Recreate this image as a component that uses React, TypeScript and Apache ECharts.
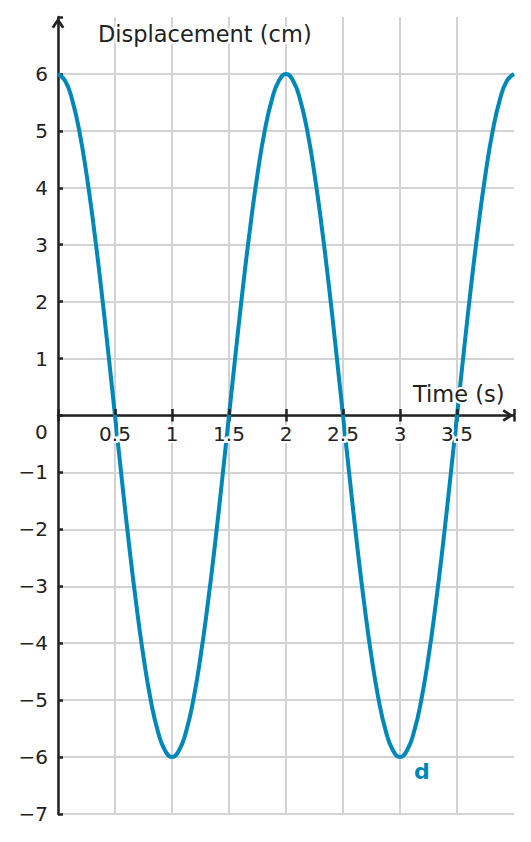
import React, { useEffect, useRef } from "react";
import * as echarts from "echarts";

// time samples (s) and displacement (cm)
const times = [
  0, 0.0625, 0.125, 0.1875, 0.25, 0.3125, 0.375, 0.4375,
  0.5, 0.5625, 0.625, 0.6875, 0.75, 0.8125, 0.875, 0.9375,
  1, 1.0625, 1.125, 1.1875, 1.25, 1.3125, 1.375, 1.4375,
  1.5, 1.5625, 1.625, 1.6875, 1.75, 1.8125, 1.875, 1.9375,
  2, 2.0625, 2.125, 2.1875, 2.25, 2.3125, 2.375, 2.4375,
  2.5, 2.5625, 2.625, 2.6875, 2.75, 2.8125, 2.875, 2.9375,
  3, 3.0625, 3.125, 3.1875, 3.25, 3.3125, 3.375, 3.4375,
  3.5, 3.5625, 3.625, 3.6875, 3.75, 3.8125, 3.875, 3.9375, 4,
];
const displacement = [
  6, 5.88, 5.54, 4.99, 4.24, 3.33, 2.3, 1.17,
  0, -1.17, -2.3, -3.33, -4.24, -4.99, -5.54, -5.88,
  -6, -5.88, -5.54, -4.99, -4.24, -3.33, -2.3, -1.17,
  0, 1.17, 2.3, 3.33, 4.24, 4.99, 5.54, 5.88,
  6, 5.88, 5.54, 4.99, 4.24, 3.33, 2.3, 1.17,
  0, -1.17, -2.3, -3.33, -4.24, -4.99, -5.54, -5.88,
  -6, -5.88, -5.54, -4.99, -4.24, -3.33, -2.3, -1.17,
  0, 1.17, 2.3, 3.33, 4.24, 4.99, 5.54, 5.88, 6,
];

const seriesName = "d";
const xTitle = "Time (s)";
const yTitle = "Displacement (cm)";

const FONT = "'DejaVu Sans', sans-serif";
const INK = "#222222";
const BLUE = "#0088bb";
const GRID = "#d3d3d3";
const ARROW = "path://M0,9 L6,0 L12,9 L9.8,10.4 L6,4.6 L2.2,10.4 Z";

const minus = (v: number) => (v < 0 ? "\u2212" + Math.abs(v) : String(v));

const App: React.FC = () => {
  const chartRef = useRef<HTMLDivElement>(null);

  useEffect(() => {
    document.body.style.margin = "0";
    if (!chartRef.current) return;
    const chart = echarts.init(chartRef.current, undefined, { renderer: "svg" });

    const tickStyle = { color: INK, width: 2.5 };
    const halo = { textBorderColor: "#ffffff", textBorderWidth: 4 };

    const option = {
      animation: false,
      grid: { left: 58, right: 17, top: 17, bottom: 28 },
      xAxis: [
        {
          type: "value",
          min: 0,
          max: 4,
          interval: 0.5,
          axisLine: {
            onZero: true,
            lineStyle: { color: INK, width: 2.5 },
            symbol: ["none", ARROW],
            symbolSize: [13, 11],
            symbolOffset: [0, -6],
          },
          axisTick: { show: true, inside: false, length: 6, lineStyle: tickStyle },
          axisLabel: { show: false },
          splitLine: { show: true, showMaxLine: false, lineStyle: { color: GRID, width: 2 } },
        },
        {
          // copy lifted onto y = 0: upward tick halves and the tick labels, drawn above the curve
          type: "value",
          min: 0,
          max: 4,
          interval: 0.5,
          position: "bottom",
          offset: -399,
          z: 4,
          axisLine: { show: false, onZero: false },
          axisTick: { show: true, inside: true, length: 6, lineStyle: tickStyle },
          axisLabel: {
            margin: 9,
            fontSize: 20,
            fontFamily: FONT,
            color: INK,
            ...halo,
            formatter: (v: number) => (v === 0 || v === 4 ? "" : String(v)),
          },
          splitLine: { show: false },
        },
      ],
      yAxis: {
        type: "value",
        min: -7,
        max: 7,
        interval: 1,
        axisLine: {
          onZero: true,
          lineStyle: { color: INK, width: 2.5 },
          symbol: ["none", ARROW],
          symbolSize: [13, 11],
          symbolOffset: [0, -6],
        },
        axisTick: { show: true, inside: true, length: 5, lineStyle: tickStyle },
        axisLabel: {
          margin: 10,
          fontSize: 20,
          fontFamily: FONT,
          color: INK,
          formatter: (v: number) => (v === 0 || v === 7 ? "" : minus(v)),
        },
        splitLine: { show: true, showMaxLine: false, lineStyle: { color: GRID, width: 2 } },
      },
      graphic: [
        {
          type: "text",
          left: 96,
          top: 20,
          z: 100,
          style: { text: yTitle, font: `22.5px ${FONT}`, fill: INK, stroke: "#ffffff", lineWidth: 4 },
        },
        {
          type: "text",
          left: 411,
          top: 380,
          z: 100,
          style: { text: xTitle, font: `22.5px ${FONT}`, fill: INK, stroke: "#ffffff", lineWidth: 4 },
        },
        {
          type: "text",
          left: 35,
          top: 422,
          z: 100,
          style: { text: "0", font: `20px ${FONT}`, fill: INK },
        },
        {
          type: "text",
          left: 414,
          top: 760,
          z: 100,
          style: { text: seriesName, font: `bold 22px ${FONT}`, fill: BLUE },
        },
      ],
      series: [
        {
          name: seriesName,
          type: "line",
          data: times.map((t, i) => [t, displacement[i]]),
          smooth: true,
          showSymbol: false,
          lineStyle: { color: BLUE, width: 4 },
          z: 2,
        },
      ],
    };

    chart.setOption(option);
    return () => {
      chart.dispose();
    };
  }, []);

  return <div ref={chartRef} style={{ width: 531, height: 842 }} />;
};

export default App;
